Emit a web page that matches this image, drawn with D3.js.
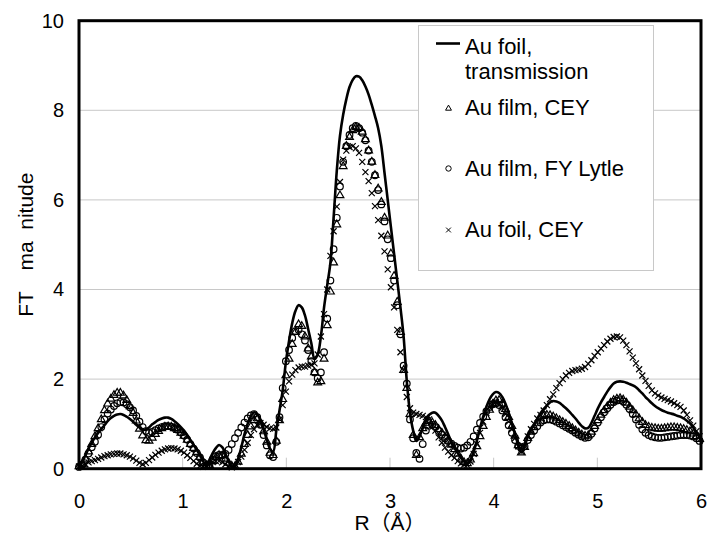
<!DOCTYPE html>
<html>
<head>
<meta charset="utf-8">
<script src="https://cdn.jsdelivr.net/npm/d3@7"></script>
<style>
  html, body { margin: 0; padding: 0; background: #fff; }
  text { font-family: "Liberation Sans", Arial, "Noto Sans CJK JP", sans-serif; fill: #000; }
</style>
</head>
<body>
<div id="chart"></div>
<script>
// R grid of the Fourier transform (Å)
var rStep = 0.0307;

// series, one value per R point
var foilTransmission = [
  0.05,0.14,0.3,0.45,0.58,0.7,0.8,0.89,0.97,1.06,
  1.13,1.18,1.21,1.22,1.2,1.16,1.11,1.05,0.98,0.92,
  0.88,0.87,0.92,0.99,1.04,1.09,1.12,1.14,1.14,1.11,
  1.06,1.0,0.93,0.85,0.75,0.64,0.53,0.42,0.3,0.17,
  0.06,0.2,0.35,0.46,0.53,0.48,0.34,0.17,0.04,0.05,
  0.22,0.48,0.77,1.0,1.17,1.26,1.22,1.08,0.88,0.65,
  0.45,0.38,0.85,1.3,1.75,2.38,2.85,3.25,3.52,3.65,
  3.6,3.42,3.12,2.8,2.45,2.55,2.95,3.6,4.1,4.6,
  5.6,6.65,7.43,7.9,8.25,8.52,8.68,8.76,8.75,8.67,
  8.53,8.35,8.12,7.87,7.6,7.2,6.6,6.0,5.4,4.8,
  4.2,3.6,2.95,1.95,1.25,0.85,0.62,0.72,0.92,1.1,
  1.2,1.25,1.25,1.18,1.08,0.93,0.77,0.6,0.47,0.35,
  0.25,0.16,0.12,0.2,0.38,0.62,0.9,1.16,1.38,1.55,
  1.66,1.71,1.69,1.6,1.45,1.25,1.02,0.77,0.54,0.36,
  0.5,0.72,0.88,0.98,1.12,1.24,1.33,1.41,1.48,1.51,
  1.5,1.47,1.41,1.35,1.28,1.2,1.12,1.03,0.95,0.9,
  0.91,1.02,1.18,1.34,1.48,1.6,1.72,1.82,1.9,1.94,
  1.95,1.94,1.92,1.89,1.86,1.82,1.75,1.68,1.6,1.53,
  1.46,1.4,1.35,1.31,1.28,1.25,1.23,1.21,1.18,1.16,
  1.12,1.07,1.01,0.92,0.82,0.72
];

var filmCey = [
  0.05,0.1,0.22,0.38,0.55,0.72,0.9,1.1,1.3,1.45,
  1.56,1.64,1.69,1.69,1.63,1.53,1.39,1.24,1.07,0.89,
  0.74,0.63,0.62,0.69,0.77,0.84,0.9,0.93,0.94,0.93,
  0.9,0.86,0.8,0.73,0.64,0.55,0.46,0.37,0.26,0.15,
  0.07,0.08,0.17,0.25,0.3,0.29,0.22,0.13,0.06,0.05,
  0.15,0.33,0.55,0.75,0.94,1.08,1.12,1.03,0.83,0.6,
  0.35,0.3,0.62,1.08,1.55,2.08,2.45,2.78,3.05,3.22,
  3.18,2.95,2.68,2.5,2.15,1.92,1.95,2.45,3.2,3.95,
  4.6,5.45,6.1,6.75,7.2,7.4,7.55,7.62,7.6,7.52,
  7.35,7.1,6.85,6.55,6.25,5.95,5.6,5.2,4.8,4.3,
  3.72,3.05,2.2,1.8,1.22,0.75,0.3,0.7,0.9,1.02,
  1.06,1.03,0.97,0.88,0.8,0.71,0.62,0.53,0.43,0.33,
  0.22,0.14,0.12,0.2,0.34,0.5,0.72,0.95,1.15,1.31,
  1.44,1.52,1.53,1.45,1.33,1.15,0.95,0.73,0.52,0.36,
  0.48,0.68,0.82,0.92,1.02,1.12,1.17,1.2,1.19,1.16,
  1.12,1.08,1.04,1.0,0.95,0.9,0.85,0.8,0.76,0.73,
  0.74,0.82,0.95,1.08,1.2,1.3,1.39,1.47,1.53,1.56,
  1.57,1.54,1.47,1.38,1.3,1.21,1.12,1.04,0.97,0.93,
  0.91,0.9,0.89,0.89,0.9,0.91,0.92,0.92,0.91,0.9,
  0.88,0.86,0.83,0.78,0.72,0.66
];

var filmFyLytle = [
  0.04,0.09,0.2,0.34,0.48,0.6,0.76,0.93,1.1,1.23,
  1.32,1.4,1.46,1.49,1.48,1.44,1.37,1.3,1.18,1.05,
  0.93,0.84,0.8,0.82,0.86,0.9,0.93,0.95,0.95,0.94,
  0.91,0.87,0.81,0.74,0.65,0.55,0.45,0.35,0.25,0.14,
  0.06,0.1,0.2,0.28,0.31,0.3,0.33,0.42,0.55,0.68,
  0.8,0.92,1.03,1.12,1.19,1.22,1.15,0.98,0.75,0.52,
  0.3,0.26,0.6,1.15,1.8,2.4,2.65,2.92,3.07,3.1,
  3.0,2.86,2.65,2.4,2.15,2.02,2.15,2.6,3.35,4.2,
  4.9,5.6,6.3,6.85,7.2,7.45,7.6,7.65,7.6,7.5,
  7.33,7.1,6.85,6.55,6.22,5.9,5.52,5.12,4.7,4.2,
  3.65,3.0,2.3,1.9,1.1,0.68,0.35,0.22,0.55,0.85,
  0.96,0.98,0.93,0.84,0.76,0.68,0.62,0.56,0.51,0.47,
  0.45,0.47,0.52,0.6,0.72,0.87,1.02,1.16,1.28,1.38,
  1.44,1.46,1.42,1.3,1.15,0.97,0.8,0.64,0.51,0.45,
  0.5,0.64,0.75,0.85,0.95,1.03,1.08,1.1,1.1,1.08,
  1.05,1.01,0.97,0.93,0.89,0.85,0.8,0.76,0.72,0.69,
  0.7,0.78,0.9,1.03,1.15,1.26,1.35,1.43,1.49,1.52,
  1.53,1.5,1.43,1.33,1.22,1.1,0.98,0.88,0.8,0.75,
  0.72,0.7,0.69,0.69,0.7,0.71,0.72,0.73,0.74,0.75,
  0.75,0.75,0.74,0.72,0.68,0.62
];

var foilCey = [
  0.05,0.06,0.1,0.14,0.17,0.19,0.22,0.25,0.28,0.3,
  0.32,0.33,0.34,0.34,0.32,0.3,0.27,0.23,0.18,0.13,
  0.1,0.13,0.19,0.25,0.31,0.36,0.4,0.43,0.45,0.46,
  0.45,0.43,0.4,0.36,0.3,0.24,0.17,0.11,0.06,0.04,
  0.07,0.11,0.15,0.17,0.17,0.14,0.1,0.05,0.03,0.06,
  0.15,0.27,0.42,0.58,0.75,0.88,0.98,1.02,0.98,0.93,
  0.9,0.89,0.92,1.1,1.42,1.72,1.95,2.1,2.2,2.26,
  2.28,2.28,2.3,2.32,2.35,2.55,2.95,3.45,4.0,4.75,
  5.3,5.85,6.4,6.9,7.1,7.18,7.2,7.15,7.05,6.85,
  6.62,6.42,6.15,5.86,5.55,5.2,4.85,4.45,4.05,3.6,
  3.1,2.6,2.2,1.6,1.35,1.25,1.22,1.2,1.18,1.15,
  1.1,0.98,0.85,0.7,0.58,0.47,0.38,0.3,0.24,0.17,
  0.12,0.09,0.08,0.16,0.33,0.55,0.8,1.05,1.24,1.37,
  1.45,1.49,1.46,1.36,1.22,1.05,0.88,0.68,0.5,0.38,
  0.5,0.72,0.88,1.0,1.12,1.2,1.3,1.42,1.55,1.66,
  1.8,1.91,2.0,2.08,2.14,2.18,2.2,2.21,2.23,2.27,
  2.34,2.42,2.52,2.6,2.68,2.76,2.84,2.9,2.94,2.95,
  2.93,2.86,2.76,2.62,2.48,2.35,2.22,2.08,1.96,1.85,
  1.75,1.68,1.63,1.59,1.56,1.53,1.5,1.46,1.42,1.38,
  1.3,1.2,1.08,0.96,0.84,0.72
];

var xTicks = [0, 1, 2, 3, 4, 5, 6];
var yTicks = [0, 2, 4, 6, 8, 10];
var legendLabels = [["Au foil,", "transmission"], ["Au film, CEY"], ["Au film, FY Lytle"], ["Au foil, CEY"]];

var width = 708, height = 537;
var margin = { top: 20.7, right: 7, bottom: 68.3, left: 79 };

var svg = d3.select("#chart").append("svg")
    .attr("width", width)
    .attr("height", height);

var x = d3.scaleLinear().domain([0, 6]).range([margin.left, width - margin.right]);
var y = d3.scaleLinear().domain([0, 10]).range([height - margin.bottom, margin.top]);

// light horizontal gridlines
svg.append("g").selectAll("line")
    .data(yTicks.slice(1, -1))
    .enter().append("line")
    .attr("x1", x(0)).attr("x2", x(6))
    .attr("y1", function (d) { return y(d); })
    .attr("y2", function (d) { return y(d); })
    .attr("stroke", "#c8c8c8")
    .attr("stroke-width", 1);

// small inner tick marks on the R axis
svg.append("g").selectAll("line")
    .data(xTicks.slice(1, -1))
    .enter().append("line")
    .attr("x1", function (d) { return x(d); })
    .attr("x2", function (d) { return x(d); })
    .attr("y1", y(0) - 11).attr("y2", y(0))
    .attr("stroke", "#c8c8c8");

// axes (labels only)
var xAxis = svg.append("g")
    .attr("transform", "translate(0," + y(0) + ")")
    .call(d3.axisBottom(x).tickValues(xTicks).tickFormat(d3.format("d")).tickSize(0).tickPadding(25));
xAxis.select(".domain").remove();
xAxis.selectAll("text").style("font-size", "20px");

var yAxis = svg.append("g")
    .attr("transform", "translate(" + x(0) + ",0)")
    .call(d3.axisLeft(y).tickValues(yTicks).tickFormat(d3.format("d")).tickSize(0).tickPadding(15));
yAxis.select(".domain").remove();
yAxis.selectAll("text").style("font-size", "20px");

var rGrid = foilTransmission.map(function (d, i) { return i * rStep; });

function pts(arr) {
    return arr.map(function (v, i) { return [rGrid[i], v]; });
}

// solid line: Au foil, transmission
var line = d3.line()
    .x(function (d) { return x(d[0]); })
    .y(function (d) { return y(d[1]); })
    .curve(d3.curveCatmullRom);

svg.append("path")
    .datum(pts(foilTransmission))
    .attr("d", line)
    .attr("fill", "none")
    .attr("stroke", "#000")
    .attr("stroke-width", 2.6);

var triPath = d3.symbol().type(d3.symbolTriangle).size(26)();
var crossPath = "M-3,-3L3,3M-3,3L3,-3";

function drawMarkers(arr, kind) {
    var g = svg.append("g");
    var sel = g.selectAll(".m")
        .data(pts(arr))
        .enter();
    if (kind === "circle") {
        sel.append("circle")
            .attr("cx", function (d) { return x(d[0]); })
            .attr("cy", function (d) { return y(d[1]); })
            .attr("r", 3.3)
            .attr("fill", "none")
            .attr("stroke", "#000")
            .attr("stroke-width", 1.2);
    } else {
        sel.append("path")
            .attr("transform", function (d) { return "translate(" + x(d[0]) + "," + y(d[1]) + ")"; })
            .attr("d", kind === "triangle" ? triPath : crossPath)
            .attr("fill", "none")
            .attr("stroke", "#000")
            .attr("stroke-width", 1.2);
    }
}

drawMarkers(filmCey, "triangle");
drawMarkers(filmFyLytle, "circle");
drawMarkers(foilCey, "cross");

// plot frame
svg.append("rect")
    .attr("x", x(0)).attr("y", y(10))
    .attr("width", x(6) - x(0))
    .attr("height", y(0) - y(10))
    .attr("fill", "none")
    .attr("stroke", "#000")
    .attr("stroke-width", 3);

// axis titles
svg.append("text")
    .attr("x", (x(0) + x(6)) / 2)
    .attr("y", 530)
    .attr("text-anchor", "middle")
    .style("font-size", "21px")
    .text("R（Å）");

svg.append("text")
    .attr("transform", "translate(33," + ((y(0) + y(10)) / 2) + ") rotate(-90)")
    .attr("text-anchor", "middle")
    .style("font-size", "21px")
    .style("white-space", "pre")
    .text("FT\u3000ma  nitude");

// legend
var lg = svg.append("g");
lg.append("rect")
    .attr("x", 418.5).attr("y", 25.5)
    .attr("width", 235).attr("height", 245)
    .attr("fill", "#fff")
    .attr("stroke", "#c8c8c8");

lg.append("line")
    .attr("x1", 436).attr("x2", 460)
    .attr("y1", 43.5).attr("y2", 43.5)
    .attr("stroke", "#000").attr("stroke-width", 2.6);

lg.append("path")
    .attr("transform", "translate(448.5,108.5)")
    .attr("d", d3.symbol().type(d3.symbolTriangle).size(15)())
    .attr("fill", "none").attr("stroke", "#000");

lg.append("circle")
    .attr("cx", 448.5).attr("cy", 168.5).attr("r", 2.7)
    .attr("fill", "none").attr("stroke", "#000");

lg.append("path")
    .attr("transform", "translate(448.5,230)")
    .attr("d", "M-2.4,-2.4L2.4,2.4M-2.4,2.4L2.4,-2.4")
    .attr("fill", "none").attr("stroke", "#000");

var legendBase = [53.5, 115, 175.5, 237];
legendLabels.forEach(function (lines, i) {
    var t = lg.append("text")
        .attr("x", 465)
        .attr("y", legendBase[i])
        .style("font-size", "22px");
    lines.forEach(function (s, j) {
        t.append("tspan")
            .attr("x", 465)
            .attr("dy", j === 0 ? 0 : 25)
            .text(s);
    });
});
</script>
</body>
</html>
